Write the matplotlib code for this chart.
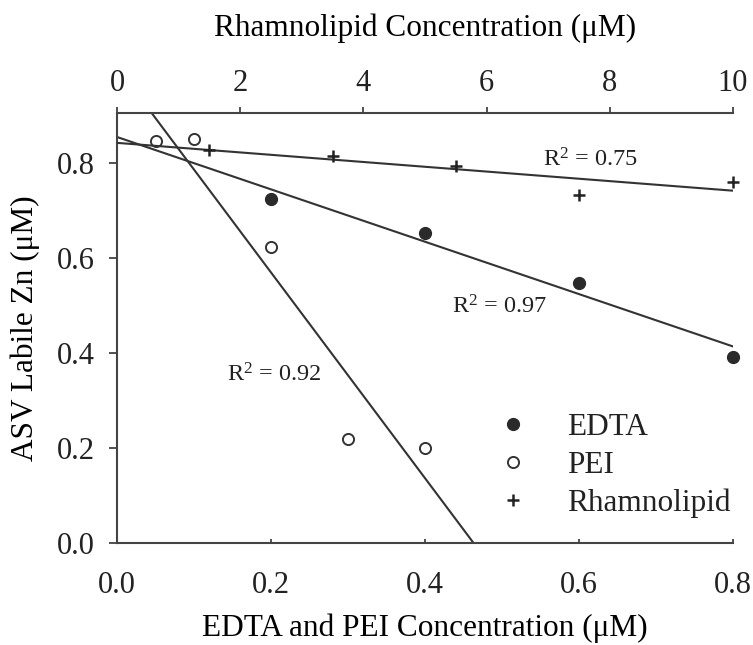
import numpy as np
import matplotlib
matplotlib.use('Agg')
import matplotlib.pyplot as plt
import matplotlib.ticker as mtick

plt.rcParams['font.family'] = ['Liberation Serif', 'DejaVu Serif']
plt.rcParams['mathtext.fontset'] = 'custom'
plt.rcParams['mathtext.rm'] = 'Liberation Serif'
plt.rcParams['mathtext.it'] = 'Liberation Serif:italic'
plt.rcParams['text.color'] = '#222222'
plt.rcParams['xtick.color'] = '#333333'
plt.rcParams['ytick.color'] = '#333333'
plt.rcParams['xtick.labelcolor'] = '#222222'
plt.rcParams['ytick.labelcolor'] = '#222222'

# ---- Data: ASV labile Zn vs ligand concentration
edta_conc = [0.2, 0.4, 0.6, 0.8]
edta_zn = [0.724, 0.653, 0.547, 0.392]

pei_conc = [0.05, 0.1, 0.2, 0.3, 0.4]
pei_zn = [0.846, 0.851, 0.623, 0.219, 0.200]

rham_conc = [1.5, 3.5, 5.5, 7.5, 10.0]
rham_zn = [0.827, 0.815, 0.794, 0.733, 0.760]

r2_edta = 'R$^{2}$ = 0.97'
r2_pei = 'R$^{2}$ = 0.92'
r2_rham = 'R$^{2}$ = 0.75'

ink = '#333333'
label_size = 22.5
tick_size = 22

fig = plt.figure(figsize=(7.53, 6.45), dpi=100)
ax = fig.add_axes([0.1554, 0.1581, 0.8180, 0.6667])
ax2 = ax.twiny()

# Linear fits
m_e, b_e = np.polyfit(edta_conc, edta_zn, 1)
m_p, b_p = np.polyfit(pei_conc, pei_zn, 1)
m_r, b_r = np.polyfit(rham_conc, rham_zn, 1)

ax.plot([0, 0.8], [b_e, b_e + m_e * 0.8], color=ink, lw=1.5, zorder=2)
x_root = -b_p / m_p
ax.plot([0, x_root], [b_p, 0], color=ink, lw=1.5, zorder=2)
ax2.plot([0, 10], [b_r, b_r + m_r * 10], color=ink, lw=1.5, zorder=2)

# Points
h_edta, = ax.plot(edta_conc, edta_zn, 'o', ls='none', ms=8.5, mfc='#2a2a2a',
                  mec='#2a2a2a', clip_on=False, zorder=3, label='EDTA')
h_pei, = ax.plot(pei_conc, pei_zn, 'o', ls='none', ms=8, mfc='white',
                 mec=ink, mew=1.4, clip_on=False, zorder=3, label='PEI')
h_rham, = ax2.plot(rham_conc, rham_zn, '+', ls='none', ms=9, mec='#222222',
                   mew=1.8, clip_on=False, zorder=3, label='Rhamnolipid')

# R^2 labels
ax.text(0.435, 0.482, r2_edta, fontsize=17.5, ha='left', va='baseline')
ax.text(0.143, 0.339, r2_pei, fontsize=17.5, ha='left', va='baseline')
ax.text(0.553, 0.792, r2_rham, fontsize=17.5, ha='left', va='baseline')

# Axis limits and ticks
ax.set_xlim(0, 0.8)
ax.set_ylim(0, 0.905)
ax2.set_xlim(0, 10)
ax.set_xticks([0.0, 0.2, 0.4, 0.6, 0.8])
ax.set_yticks([0.0, 0.2, 0.4, 0.6, 0.8])
ax2.set_xticks([0, 2, 4, 6, 8, 10])
ax.xaxis.set_major_formatter(mtick.FormatStrFormatter('%.1f'))
ax.yaxis.set_major_formatter(mtick.FormatStrFormatter('%.1f'))

ax.yaxis.set_ticks_position('left')
ax.xaxis.set_ticks_position('bottom')
ax.tick_params(axis='y', direction='out', length=6, width=1.2, pad=10, labelsize=tick_size)
ax.tick_params(axis='x', direction='in', length=3, width=1.2, pad=20, labelsize=tick_size)
ax2.tick_params(axis='x', direction='out', length=4, width=1.2, pad=7, labelsize=tick_size)

for s in ['right', 'top']:
    ax.spines[s].set_visible(False)
for s in ['right', 'bottom', 'left']:
    ax2.spines[s].set_visible(False)
for sp in [ax.spines['left'], ax.spines['bottom'], ax2.spines['top']]:
    sp.set_linewidth(1.5)
    sp.set_color('#444444')

# Axis labels
ax.set_xlabel('EDTA and PEI Concentration (μM)', fontsize=label_size)
ax.xaxis.set_label_coords(0.5, -0.164)
ax.set_ylabel('ASV Labile Zn (μM)', fontsize=label_size)
ax.yaxis.set_label_coords(-0.125, 0.5)
ax2.set_xlabel('Rhamnolipid Concentration (μM)', fontsize=label_size)
ax2.xaxis.set_label_coords(0.5, 1.179)

# Legend
ax2.legend([h_edta, h_pei, h_rham], ['EDTA', 'PEI', 'Rhamnolipid'],
           fontsize=label_size, frameon=False, handlelength=1.0,
           handletextpad=1.23, labelspacing=0.28, borderpad=0,
           borderaxespad=0, loc='upper left',
           bbox_to_anchor=(497 / 753, 1 - 413 / 645),
           bbox_transform=fig.transFigure)

fig.savefig('out.png', dpi=100)
